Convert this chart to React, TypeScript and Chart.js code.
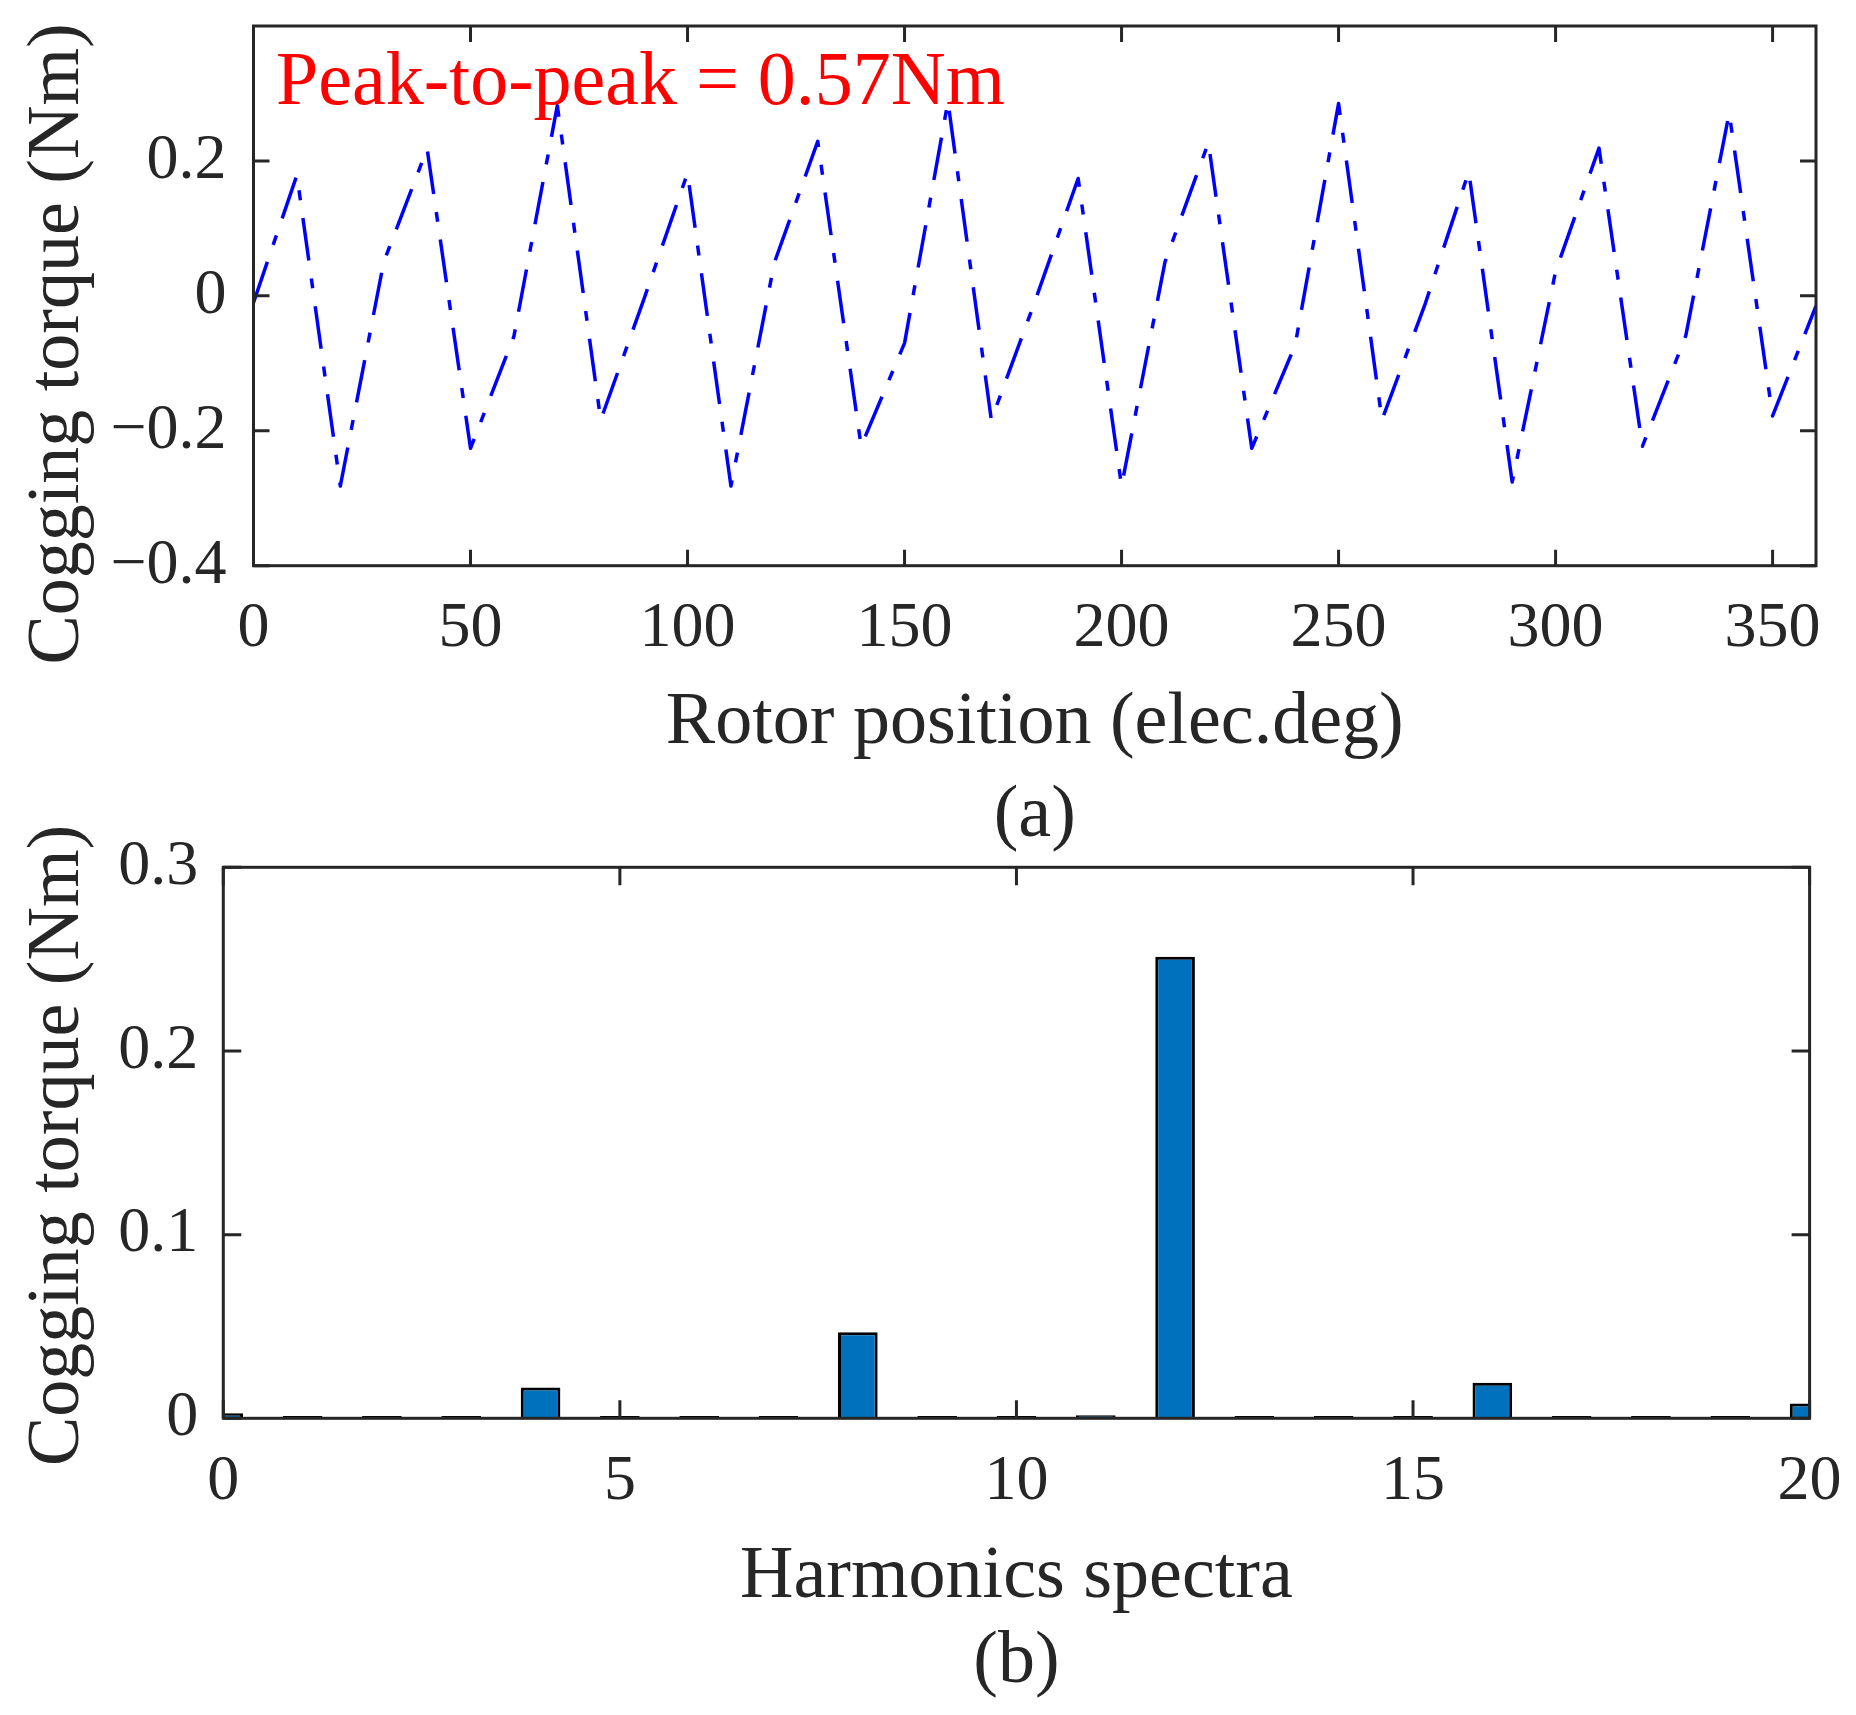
import React, { useEffect, useRef } from 'react';
import { Chart, registerables } from 'chart.js';

Chart.register(...registerables);

// ---------- data: (a) cogging torque waveform ----------
const rotorPosition = [0, 10, 20, 30, 40, 50, 60, 70, 80, 90, 100, 110, 120, 130, 140, 150, 160, 170, 180, 190, 200, 210, 220, 230, 240, 250, 260, 270, 280, 290, 300, 310, 320, 330, 340, 350, 360];
const coggingTorque = [-0.01, 0.179, -0.282, 0.05, 0.218, -0.226, -0.06, 0.282, -0.184, -0.004, 0.182, -0.282, 0.049, 0.229, -0.223, -0.07, 0.288, -0.184, -0.009, 0.174, -0.282, 0.05, 0.227, -0.226, -0.073, 0.285, -0.184, -0.011, 0.184, -0.276, 0.036, 0.219, -0.223, -0.059, 0.271, -0.178, -0.015];
const xTicksA = [0, 50, 100, 150, 200, 250, 300, 350];
const xTickLabelsA = ['0', '50', '100', '150', '200', '250', '300', '350'];
const yTicksA = [-0.4, -0.2, 0, 0.2];
const yTickLabelsA = ['\u22120.4', '\u22120.2', '0', '0.2'];

// ---------- data: (b) harmonic spectrum ----------
const harmonicOrder = [0, 1, 2, 3, 4, 5, 6, 7, 8, 9, 10, 11, 12, 13, 14, 15, 16, 17, 18, 19, 20];
const harmonicTorque = [0.0027, 0.0013, 0.0013, 0.0013, 0.0168, 0.0013, 0.0012, 0.0013, 0.0468, 0.0013, 0.0012, 0.0016, 0.2513, 0.0012, 0.0012, 0.0013, 0.0193, 0.0013, 0.0012, 0.0012, 0.008];
const xTicksB = [0, 5, 10, 15, 20];
const xTickLabelsB = ['0', '5', '10', '15', '20'];
const yTicksB = [0, 0.1, 0.2, 0.3];
const yTickLabelsB = ['0', '0.1', '0.2', '0.3'];

const FONT = "'Liberation Serif', 'Times New Roman', serif";
const AXIS_COLOR = '#262626';

type FrameOpts = {
  id: string;
  tickLen: number;
  xTitle: string;
  xTitleBaseline: number;
  caption: string;
  captionBaseline: number;
  yTitle: string;
  yTitleX: number;
  yTitleY: number;
  note?: { text: string; x: number; y: number; color: string; size: number };
};

function makeFramePlugin(o: FrameOpts) {
  return {
    id: o.id,
    afterDraw(chart: any) {
      const ctx = chart.ctx as CanvasRenderingContext2D;
      const { left, right, top, bottom } = chart.chartArea;
      const xs = chart.scales.x;
      const ys = chart.scales.y;
      ctx.save();
      ctx.strokeStyle = AXIS_COLOR;
      ctx.lineWidth = 3;
      ctx.lineCap = 'butt';
      ctx.beginPath();
      xs.ticks.forEach((t: any) => {
        const px = xs.getPixelForValue(t.value);
        ctx.moveTo(px, bottom);
        ctx.lineTo(px, bottom - o.tickLen);
        ctx.moveTo(px, top);
        ctx.lineTo(px, top + o.tickLen);
      });
      ys.ticks.forEach((t: any) => {
        const py = ys.getPixelForValue(t.value);
        ctx.moveTo(left, py);
        ctx.lineTo(left + o.tickLen, py);
        ctx.moveTo(right, py);
        ctx.lineTo(right - o.tickLen, py);
      });
      ctx.stroke();
      ctx.lineJoin = 'miter';
      ctx.strokeRect(left, top, right - left, bottom - top);

      ctx.fillStyle = AXIS_COLOR;
      ctx.font = `74px ${FONT}`;
      ctx.textAlign = 'center';
      ctx.textBaseline = 'alphabetic';
      const cx = (left + right) / 2;
      ctx.fillText(o.xTitle, cx, o.xTitleBaseline);
      ctx.fillText(o.caption, cx, o.captionBaseline);

      ctx.save();
      ctx.translate(o.yTitleX, o.yTitleY);
      ctx.rotate(-Math.PI / 2);
      ctx.fillText(o.yTitle, 0, 0);
      ctx.restore();

      if (o.note) {
        ctx.fillStyle = o.note.color;
        ctx.font = `${o.note.size}px ${FONT}`;
        ctx.textAlign = 'left';
        ctx.fillText(o.note.text, o.note.x, o.note.y);
      }
      ctx.restore();
    },
  };
}

const tickFont = { family: FONT, size: 64 };

export default function App() {
  const refA = useRef<HTMLCanvasElement | null>(null);
  const refB = useRef<HTMLCanvasElement | null>(null);

  useEffect(() => {
    document.body.style.margin = '0';
    document.body.style.background = '#ffffff';
    Chart.defaults.font.family = FONT;

    const chartA = new Chart(refA.current as HTMLCanvasElement, {
      type: 'line',
      data: {
        datasets: [
          {
            data: rotorPosition.map((x, i) => ({ x, y: coggingTorque[i] })),
            borderColor: '#0000FF',
            borderWidth: 3.5,
            borderDash: [43, 18, 10, 18],
            borderJoinStyle: 'round',
            pointRadius: 0,
            fill: false,
            tension: 0,
            clip: 0,
          } as any,
        ],
      },
      options: {
        animation: false,
        responsive: false,
        layout: { padding: { top: 26, right: 40, left: 0, bottom: 0 } },
        plugins: { legend: { display: false }, tooltip: { enabled: false } },
        scales: {
          x: {
            type: 'linear',
            min: 0,
            max: 360,
            grid: { display: false, drawTicks: false },
            border: { display: false },
            ticks: {
              padding: 25,
              font: tickFont,
              color: AXIS_COLOR,
              maxRotation: 0,
              minRotation: 0,
              autoSkip: false,
              callback: (_v: any, i: number) => xTickLabelsA[i],
            },
            afterBuildTicks: (s: any) => {
              s.ticks = xTicksA.map((v) => ({ value: v }));
            },
            afterFit: (s: any) => {
              s.height = 860 - 565.7;
              s.paddingLeft = 0;
              s.paddingRight = 0;
            },
          },
          y: {
            type: 'linear',
            min: -0.4,
            max: 0.4,
            grid: { display: false, drawTicks: false },
            border: { display: false },
            ticks: {
              padding: 27,
              font: tickFont,
              color: AXIS_COLOR,
              autoSkip: false,
              callback: (_v: any, i: number) => yTickLabelsA[i],
            },
            afterBuildTicks: (s: any) => {
              s.ticks = yTicksA.map((v) => ({ value: v }));
            },
            afterFit: (s: any) => {
              s.width = 253.5;
              s.paddingTop = 0;
              s.paddingBottom = 0;
            },
          },
        },
      } as any,
      plugins: [
        makeFramePlugin({
          id: 'frameA',
          tickLen: 16,
          xTitle: 'Rotor position (elec.deg)',
          xTitleBaseline: 743,
          caption: '(a)',
          captionBaseline: 836,
          yTitle: 'Cogging torque (Nm)',
          yTitleX: 78,
          yTitleY: 344,
          note: { text: 'Peak-to-peak = 0.57Nm', x: 276, y: 104, color: '#FF0000', size: 76 },
        }),
      ],
    });

    const chartB = new Chart(refB.current as HTMLCanvasElement, {
      type: 'bar',
      data: {
        datasets: [
          {
            data: harmonicOrder.map((x, i) => ({ x, y: harmonicTorque[i] })),
            backgroundColor: '#0072BD',
            borderColor: '#000000',
            borderWidth: 3,
            barPercentage: 0.5,
            categoryPercentage: 1,
            clip: 0,
          } as any,
        ],
      },
      options: {
        animation: false,
        responsive: false,
        layout: { padding: { top: 867.3 - 820, right: 1856 - 1809.6, left: 0, bottom: 0 } },
        plugins: { legend: { display: false }, tooltip: { enabled: false } },
        scales: {
          x: {
            type: 'linear',
            offset: false,
            min: 0,
            max: 20,
            grid: { display: false, drawTicks: false, offset: false },
            border: { display: false },
            ticks: {
              padding: 25,
              font: tickFont,
              color: AXIS_COLOR,
              maxRotation: 0,
              minRotation: 0,
              autoSkip: false,
              callback: (_v: any, i: number) => xTickLabelsB[i],
            },
            afterBuildTicks: (s: any) => {
              s.ticks = xTicksB.map((v) => ({ value: v }));
            },
            afterFit: (s: any) => {
              s.height = 895 - (1418.3 - 820);
              s.paddingLeft = 0;
              s.paddingRight = 0;
            },
          },
          y: {
            type: 'linear',
            min: 0,
            max: 0.3,
            grid: { display: false, drawTicks: false },
            border: { display: false },
            ticks: {
              padding: 25,
              font: tickFont,
              color: AXIS_COLOR,
              autoSkip: false,
              callback: (_v: any, i: number) => yTickLabelsB[i],
            },
            afterBuildTicks: (s: any) => {
              s.ticks = yTicksB.map((v) => ({ value: v }));
            },
            afterFit: (s: any) => {
              s.width = 223.3;
              s.paddingTop = 0;
              s.paddingBottom = 0;
            },
          },
        },
      } as any,
      plugins: [
        makeFramePlugin({
          id: 'frameB',
          tickLen: 18,
          xTitle: 'Harmonics spectra',
          xTitleBaseline: 1597 - 820,
          caption: '(b)',
          captionBaseline: 1682 - 820,
          yTitle: 'Cogging torque (Nm)',
          yTitleX: 78,
          yTitleY: 1145.5 - 820,
        }),
      ],
    });

    return () => {
      chartA.destroy();
      chartB.destroy();
    };
  }, []);

  return (
    <div style={{ position: 'relative', width: 1856, height: 1715, background: '#ffffff', overflow: 'hidden' }}>
      <canvas
        ref={refA}
        width={1856}
        height={860}
        style={{ position: 'absolute', left: 0, top: 0, width: 1856, height: 860 }}
      />
      <canvas
        ref={refB}
        width={1856}
        height={895}
        style={{ position: 'absolute', left: 0, top: 820, width: 1856, height: 895 }}
      />
    </div>
  );
}
